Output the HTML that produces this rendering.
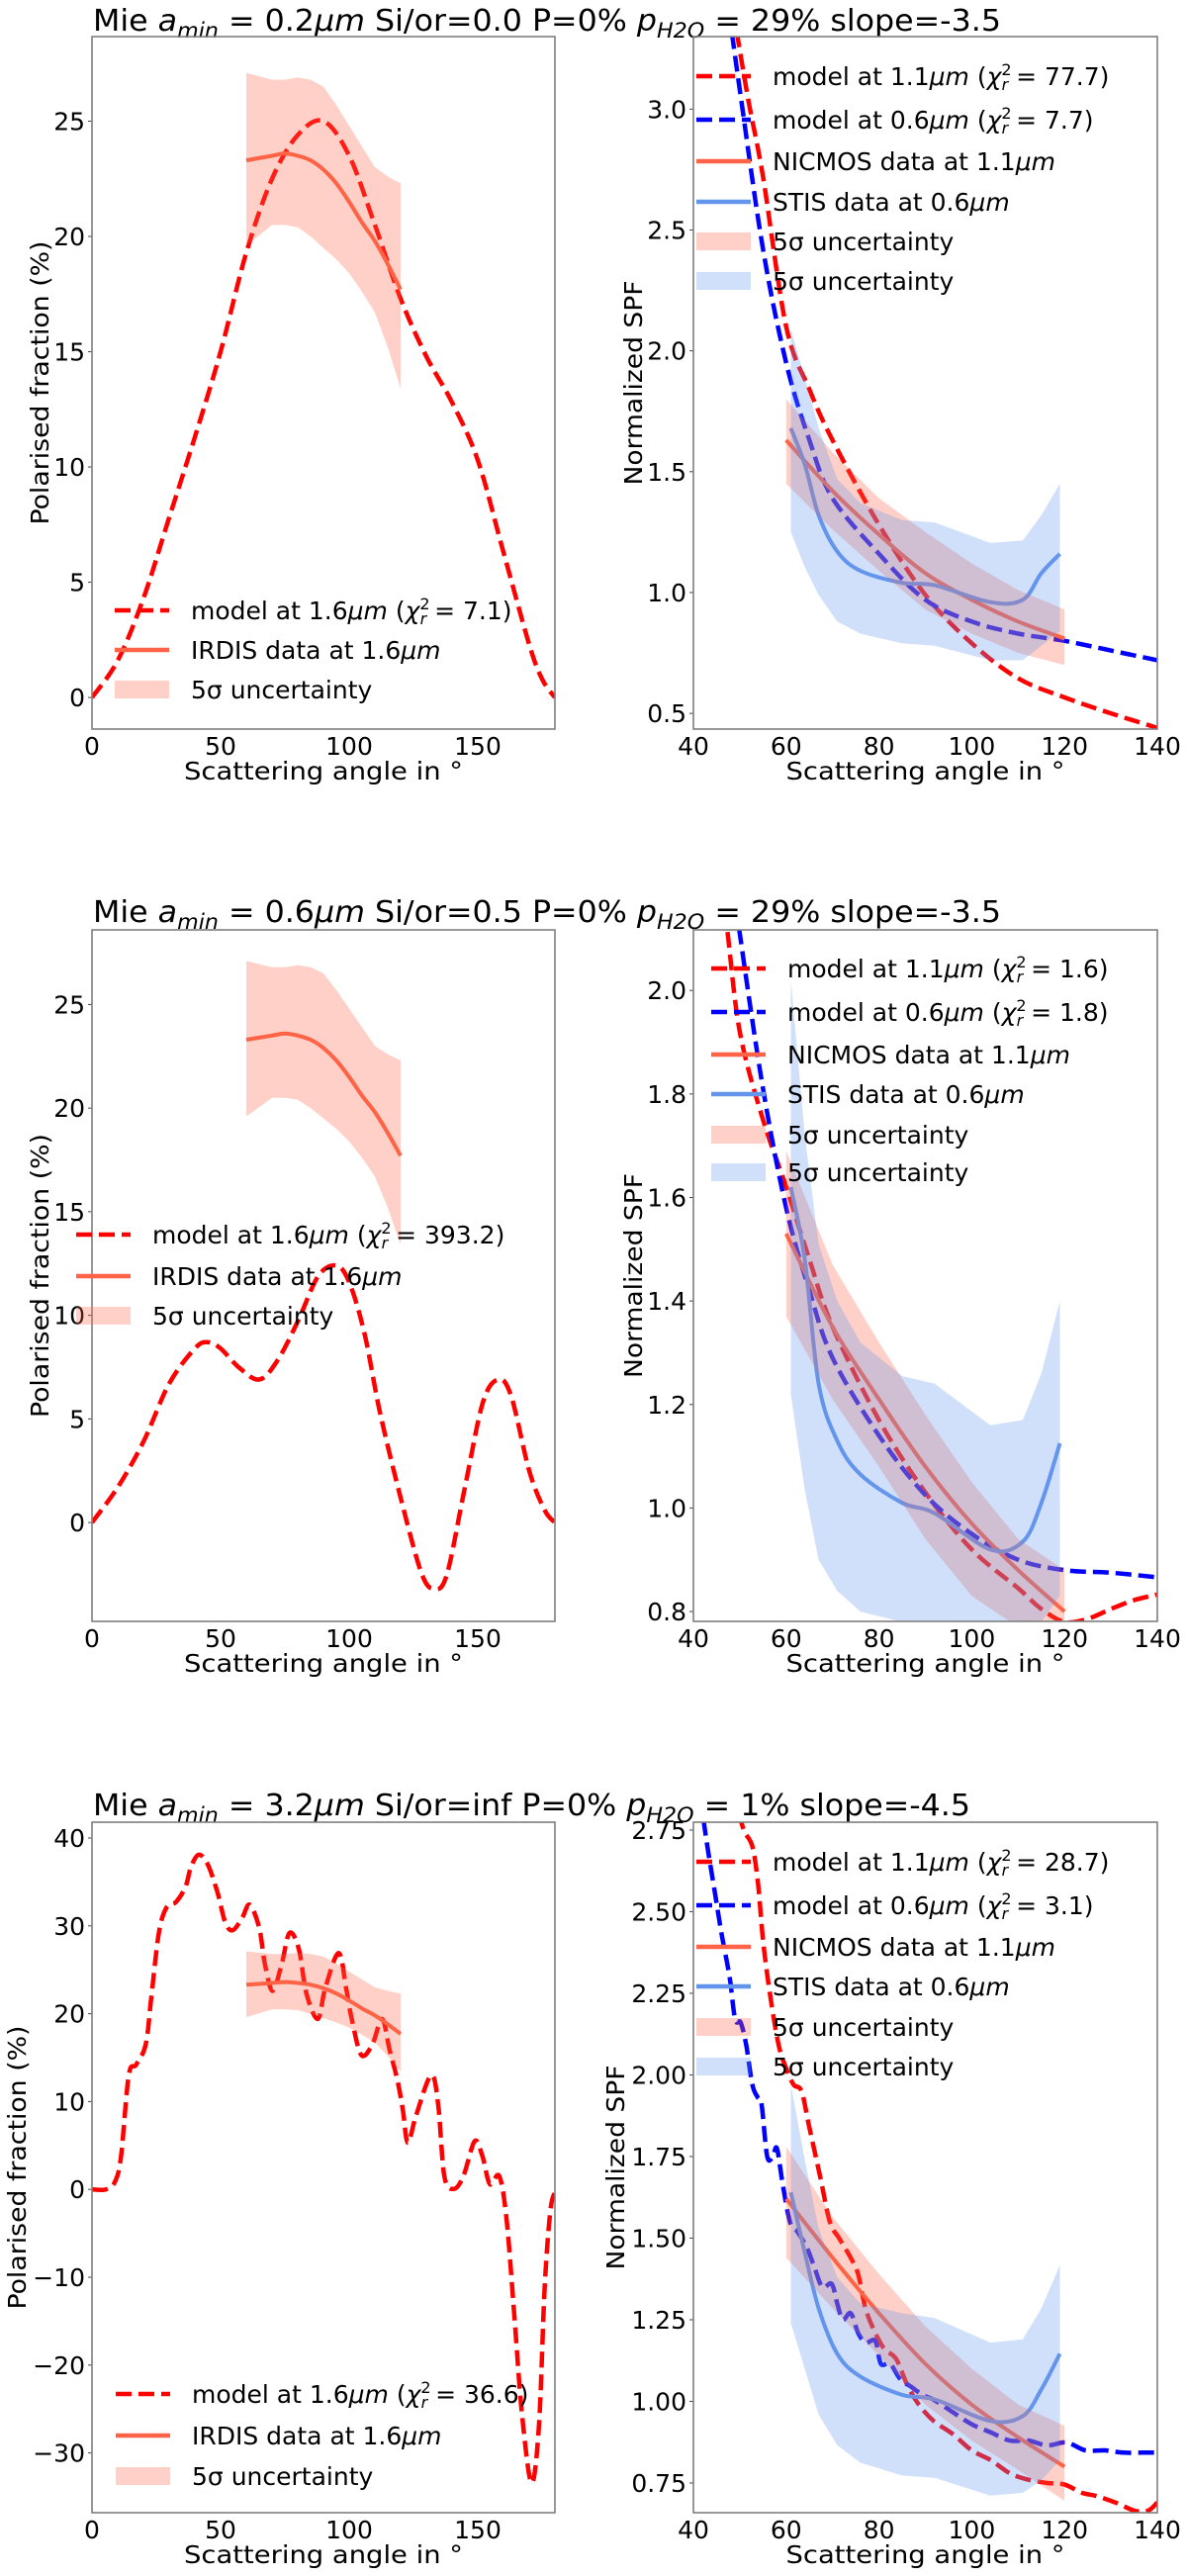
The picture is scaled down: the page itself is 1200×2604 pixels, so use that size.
<!DOCTYPE html>
<html><head><meta charset="utf-8"><style>
html,body{margin:0;padding:0;background:#fff;}
svg{display:block;font-family:"DejaVu Sans","Liberation Sans",sans-serif;}
</style></head><body>
<svg id="fig" width="1200" height="2604" viewBox="0 0 1200 2604" xmlns="http://www.w3.org/2000/svg">
<rect width="1200" height="2604" fill="#fff"/>
<text x="94" y="31" font-size="30" textLength="918" lengthAdjust="spacingAndGlyphs">Mie <tspan font-style="italic">a</tspan><tspan font-style="italic" font-size="21" dy="7">min</tspan><tspan dy="-7"> = 0.2</tspan><tspan font-style="italic">μm</tspan> Si/or=0.0 P=0% <tspan font-style="italic">p</tspan><tspan font-style="italic" font-size="21" dy="7">H2O</tspan><tspan dy="-7"> = 29% slope=-3.5</tspan></text>
<text x="94" y="932" font-size="30" textLength="918" lengthAdjust="spacingAndGlyphs">Mie <tspan font-style="italic">a</tspan><tspan font-style="italic" font-size="21" dy="7">min</tspan><tspan dy="-7"> = 0.6</tspan><tspan font-style="italic">μm</tspan> Si/or=0.5 P=0% <tspan font-style="italic">p</tspan><tspan font-style="italic" font-size="21" dy="7">H2O</tspan><tspan dy="-7"> = 29% slope=-3.5</tspan></text>
<text x="94" y="1835" font-size="30" textLength="887" lengthAdjust="spacingAndGlyphs">Mie <tspan font-style="italic">a</tspan><tspan font-style="italic" font-size="21" dy="7">min</tspan><tspan dy="-7"> = 3.2</tspan><tspan font-style="italic">μm</tspan> Si/or=inf P=0% <tspan font-style="italic">p</tspan><tspan font-style="italic" font-size="21" dy="7">H2O</tspan><tspan dy="-7"> = 1% slope=-4.5</tspan></text>
</svg>
<script>
// ===== Shared data =====
const irdisAng = [60, 70, 75, 80, 85, 90, 95, 100, 105, 110, 115, 120];
const irdisVal = [23.3, 23.5, 23.6, 23.5, 23.3, 22.9, 22.3, 21.5, 20.6, 19.8, 18.8, 17.7];
const irdisHi  = [27.1, 26.8, 26.8, 26.9, 26.8, 26.5, 25.7, 24.8, 23.9, 23.0, 22.6, 22.3];
const irdisLo  = [19.6, 20.5, 20.5, 20.4, 20.0, 19.5, 19.0, 18.4, 17.6, 16.7, 15.2, 13.4];
const nicAng = [60, 70, 80, 90, 100, 110, 120];
const stisAng = [61, 64, 67, 71, 76, 85, 92, 104, 111, 115, 119];

// ===== Panel 1 (row1 left) =====
const p1ModelAng = [0, 10, 20, 30, 40, 50, 60, 70, 80, 90, 100, 110, 120, 130, 140, 150, 160, 170, 175, 180];
const p1ModelVal = [0, 1.6, 4.3, 7.8, 11.3, 15.0, 19.3, 22.5, 24.4, 25.0, 23.5, 20.5, 17.3, 14.8, 12.8, 10.3, 6.3, 2.3, 0.8, 0];
// ===== Panel 2 (row1 right) =====
const p2RedAng = [47, 49.5, 52, 55, 60, 65, 70, 80, 90, 100, 110, 120, 130, 140];
const p2RedVal = [3.6, 3.3, 3.02, 2.72, 2.1, 1.84, 1.63, 1.28, 0.99, 0.79, 0.645, 0.566, 0.50, 0.44];
const p2BlueAng = [47, 50, 55, 60, 65, 70, 80, 90, 100, 110, 120, 130, 140];
const p2BlueVal = [3.5, 3.08, 2.42, 1.95, 1.63, 1.39, 1.16, 0.97, 0.88, 0.83, 0.80, 0.76, 0.72];
const p2NicVal = [1.63, 1.42, 1.24, 1.08, 0.97, 0.88, 0.81];
const p2NicHi = [1.80, 1.58, 1.39, 1.25, 1.12, 1.01, 0.93];
const p2NicLo = [1.45, 1.26, 1.09, 0.93, 0.83, 0.75, 0.70];
const p2StisVal = [1.68, 1.53, 1.32, 1.17, 1.09, 1.04, 1.03, 0.96, 0.97, 1.08, 1.16];
const p2StisHi = [2.09, 1.89, 1.68, 1.47, 1.37, 1.30, 1.29, 1.205, 1.215, 1.32, 1.45];
const p2StisLo = [1.25, 1.105, 0.99, 0.88, 0.83, 0.79, 0.78, 0.72, 0.72, 0.78, 0.84];
// ===== Panel 3 (row2 left) =====
const p3ModelAng = [0, 10, 20, 30, 40, 45, 50, 57, 65, 72, 80, 88, 95, 100, 106, 112, 120, 128, 133, 138, 145, 152, 158, 163, 170, 176, 180];
const p3ModelVal = [0, 1.7, 3.9, 6.7, 8.4, 8.7, 8.4, 7.5, 6.9, 7.8, 9.7, 11.9, 12.4, 11.6, 9.1, 5.3, 1.2, -2.4, -3.2, -2.5, 1.7, 5.8, 6.9, 6.1, 2.5, 0.6, 0];
// ===== Panel 4 (row2 right) =====
const p4RedAng = [46, 47.3, 50, 55, 60, 65, 70, 80, 90, 100, 110, 115, 120, 125, 130, 135, 140];
const p4RedVal = [2.2, 2.117, 1.92, 1.75, 1.62, 1.48, 1.35, 1.17, 1.03, 0.92, 0.845, 0.805, 0.78, 0.786, 0.805, 0.822, 0.833];
const p4BlueAng = [48, 50, 55, 60, 65, 70, 80, 90, 100, 110, 120, 130, 140];
const p4BlueVal = [2.25, 2.11, 1.81, 1.58, 1.42, 1.29, 1.14, 1.025, 0.95, 0.90, 0.88, 0.875, 0.866];
const p4NicVal = [1.53, 1.35, 1.21, 1.08, 0.97, 0.88, 0.80];
const p4NicHi = [1.69, 1.47, 1.32, 1.18, 1.05, 0.94, 0.88];
const p4NicLo = [1.37, 1.21, 1.08, 0.94, 0.83, 0.77, 0.745];
const p4StisVal = [1.62, 1.48, 1.24, 1.13, 1.065, 1.01, 0.99, 0.92, 0.935, 1.01, 1.125];
const p4StisHi = [2.02, 1.72, 1.51, 1.40, 1.32, 1.255, 1.24, 1.16, 1.17, 1.26, 1.40];
const p4StisLo = [1.22, 1.035, 0.90, 0.84, 0.80, 0.78, 0.77, 0.77, 0.77, 0.78, 0.83];
// ===== Panel 5 (row3 left) =====
const p5ModelAng = [0, 5.4, 9, 11.3, 14.3, 17.2, 20.9, 23, 26, 29, 32.6, 36.3, 38.5, 41.5, 45, 48.8, 51.8, 54.7, 58.4, 61.3, 65, 67.2, 70.2, 73.8, 76.8, 80.4, 83.4, 87.8, 90.7, 95.9, 98.8, 101, 104.7, 109, 112.8, 115.7, 118.7, 120.9, 122.8, 126, 131.9, 134.6, 137, 140.7, 144.4, 148.8, 151.8, 154.7, 158.4, 161.3, 164.3, 167.2, 170.9, 173.8, 176, 178.2, 180];
const p5ModelVal = [0, 0, 0.9, 3.8, 13, 14.2, 16.5, 21.7, 29.2, 32.1, 32.7, 34.4, 36.7, 38.1, 37, 33.8, 30.4, 29.5, 30.9, 32.4, 29.8, 25.7, 22.6, 25.7, 29.2, 27.4, 22.3, 19.4, 22.9, 26.9, 22.9, 19.4, 15.3, 16.5, 19.4, 15.9, 12.5, 9.0, 5.3, 8.4, 13, 9.6, 1.5, 0.06, 1.5, 5.5, 3.8, 0.6, 1.5, -3.7, -14.7, -25.6, -33.4, -26.8, -11.2, -2.5, -0.3];
// ===== Panel 6 (row3 right) =====
const p6RedAng = [49.8, 51, 52.7, 53.9, 55.1, 56.7, 58.4, 60, 61.6, 63.3, 64.9, 67.3, 69.4, 71.4, 73.9, 75.5, 77.1, 79.2, 81.2, 83.7, 86.1, 88.6, 91.8, 95.9, 100, 104.1, 108.2, 112.2, 116.3, 120, 123.7, 126.9, 131, 135.1, 138, 140];
const p6RedVal = [2.8, 2.745, 2.70, 2.59, 2.40, 2.23, 2.09, 2.02, 1.97, 1.95, 1.845, 1.69, 1.55, 1.50, 1.44, 1.39, 1.285, 1.21, 1.16, 1.13, 1.05, 0.99, 0.94, 0.90, 0.85, 0.82, 0.78, 0.76, 0.75, 0.745, 0.72, 0.71, 0.69, 0.665, 0.665, 0.69];
const p6BlueAng = [41.5, 42.9, 44.5, 46.1, 47.8, 49, 50.2, 51.4, 52.7, 53.9, 54.7, 55.9, 57.1, 58, 59.2, 60.8, 62.4, 64.5, 66.1, 67.8, 69.8, 71, 72.2, 73.9, 75.5, 77.1, 79.2, 80.4, 82.4, 84.5, 86.9, 89.4, 91.8, 95.9, 100, 104.1, 108.2, 112.2, 116.3, 120.4, 124.5, 128.6, 132.7, 136.7, 140];
const p6BlueVal = [2.85, 2.71, 2.57, 2.43, 2.30, 2.17, 2.16, 2.09, 1.97, 1.93, 1.91, 1.75, 1.75, 1.775, 1.67, 1.55, 1.52, 1.47, 1.41, 1.35, 1.36, 1.30, 1.25, 1.27, 1.21, 1.18, 1.185, 1.115, 1.115, 1.07, 1.045, 1.02, 1.005, 0.967, 0.93, 0.905, 0.88, 0.88, 0.865, 0.874, 0.85, 0.85, 0.843, 0.843, 0.843];
const p6NicVal = [1.62, 1.44, 1.27, 1.115, 0.99, 0.89, 0.80];
const p6NicHi = [1.78, 1.565, 1.39, 1.23, 1.10, 0.99, 0.925];
const p6NicLo = [1.44, 1.285, 1.14, 0.99, 0.88, 0.79, 0.695];
const p6StisVal = [1.64, 1.456, 1.285, 1.146, 1.076, 1.02, 1.006, 0.94, 0.955, 1.037, 1.146];
const p6StisHi = [1.97, 1.74, 1.53, 1.38, 1.30, 1.27, 1.255, 1.18, 1.19, 1.285, 1.417];
const p6StisLo = [1.24, 1.10, 0.96, 0.866, 0.812, 0.773, 0.766, 0.711, 0.72, 0.758, 0.82];

// Tick labels
const leftXTicks = [0, 50, 100, 150];
const rightXTicks = [40, 60, 80, 100, 120, 140];
const p1YTicks = [0, 5, 10, 15, 20, 25];
const p2YTicks = [0.5, 1.0, 1.5, 2.0, 2.5, 3.0];
const p3YTicks = [0, 5, 10, 15, 20, 25];
const p4YTicks = [0.8, 1.0, 1.2, 1.4, 1.6, 1.8, 2.0];
const p5YTicks = [-30, -20, -10, 0, 10, 20, 30, 40];
const p6YTicks = [0.75, 1.0, 1.25, 1.5, 1.75, 2.0, 2.25, 2.5, 2.75];

const NS = 'http://www.w3.org/2000/svg';
const svg = document.getElementById('fig');
const RED = '#ff0000', BLUE = '#0000ff', TOM = '#ff6347', CORN = '#6495ed';
let clipId = 0;

function el(tag, attrs, parent) {
  const e = document.createElementNS(NS, tag);
  for (const k in attrs) e.setAttribute(k, attrs[k]);
  (parent || svg).appendChild(e);
  return e;
}
function fmt(v, d) {
  const s = v.toFixed(d);
  return s.charAt(0) === '-' ? '\u2212' + s.slice(1) : s;
}
function smoothPath(pts) {
  if (pts.length < 3) return pts.map((p, i) => (i ? 'L' : 'M') + p[0].toFixed(1) + ' ' + p[1].toFixed(1)).join(' ');
  let d = 'M' + pts[0][0].toFixed(1) + ' ' + pts[0][1].toFixed(1);
  for (let i = 0; i < pts.length - 1; i++) {
    const p0 = pts[i - 1] || pts[i], p1 = pts[i], p2 = pts[i + 1], p3 = pts[i + 2] || p2;
    const c1x = p1[0] + (p2[0] - p0[0]) / 6, c1y = p1[1] + (p2[1] - p0[1]) / 6;
    const c2x = p2[0] - (p3[0] - p1[0]) / 6, c2y = p2[1] - (p3[1] - p1[1]) / 6;
    d += ' C' + c1x.toFixed(1) + ' ' + c1y.toFixed(1) + ' ' + c2x.toFixed(1) + ' ' + c2y.toFixed(1) + ' ' + p2[0].toFixed(1) + ' ' + p2[1].toFixed(1);
  }
  return d;
}

function axes(cfg) {
  const g = el('g', {});
  
  
  const sx = v => cfg.x0 + (v - cfg.xmin) / (cfg.xmax - cfg.xmin) * (cfg.x1 - cfg.x0);
  const sy = v => cfg.y1 - (v - cfg.ymin) / (cfg.ymax - cfg.ymin) * (cfg.y1 - cfg.y0);
  const id = 'clip' + (clipId++);
  const cp = el('clipPath', { id: id }, g);
  el('rect', { x: cfg.x0, y: cfg.y0, width: cfg.x1 - cfg.x0, height: cfg.y1 - cfg.y0 }, cp);
  const plot = el('g', { 'clip-path': 'url(#' + id + ')' }, g);
  cfg.xticks.forEach(t => {
    const lab = el('text', { x: sx(t), y: cfg.y1 + 26, 'font-size': 25, 'text-anchor': 'middle' }, g);
    
    
    lab.textContent = String(t);
  });
  cfg.yticks.forEach(t => {
    if (sy(t) < cfg.y0 - 12 || sy(t) > cfg.y1 + 2) return;
    const lab = el('text', { x: cfg.x0 - 7, y: sy(t) + 9, 'font-size': 25, 'text-anchor': 'end' }, g);
    
    
    lab.textContent = fmt(t, cfg.ydec);
    el('line', { x1: cfg.x0 - 4, x2: cfg.x0, y1: sy(t), y2: sy(t), stroke: '#444', 'stroke-width': 1 }, g);
  });
  const xl = el('text', { x: (cfg.x0 + cfg.x1) / 2, y: cfg.y1 + 51, 'font-size': 25, 'text-anchor': 'middle', textLength: 282, lengthAdjust: 'spacingAndGlyphs' }, g);
  
  
  xl.textContent = 'Scattering angle in  \u00b0';
  const yc = (cfg.y0 + cfg.y1) / 2;
  const yl = el('text', { x: 0, y: 0, 'font-size': 25, 'text-anchor': 'middle',
    'font-family': '"DejaVu Sans Condensed","Liberation Sans Narrow","Liberation Sans",sans-serif',
    transform: 'translate(' + (cfg.ylx + 9) + ',' + yc + ') rotate(-90)',
    textLength: cfg.ylLen, lengthAdjust: 'spacingAndGlyphs' }, g);
  
  
  yl.textContent = cfg.ylabel;
  return { g, plot, sx, sy, cfg };
}

function line(ax, xs, ys, color, dashed, name, w) {
  const pts = xs.map((x, i) => [ax.sx(x), ax.sy(ys[i])]);
  const p = el('path', { d: smoothPath(pts), fill: 'none', stroke: color, 'stroke-width': w || 4.5,
    'stroke-linejoin': 'round', 'stroke-dasharray': dashed ? '16 7' : 'none' }, ax.plot);
  
  
}
function band(ax, xs, hi, lo, color, name) {
  let d = xs.map((x, i) => (i ? 'L' : 'M') + ax.sx(x).toFixed(1) + ' ' + ax.sy(hi[i]).toFixed(1)).join(' ');
  for (let i = xs.length - 1; i >= 0; i--) d += ' L' + ax.sx(xs[i]).toFixed(1) + ' ' + ax.sy(lo[i]).toFixed(1);
  const p = el('path', { d: d + ' Z', fill: color, 'fill-opacity': 0.3, stroke: 'none' }, ax.plot);
  
  
}
function frame(ax) {
  const c = ax.cfg;
  const r = el('rect', { x: c.x0, y: c.y0, width: c.x1 - c.x0, height: c.y1 - c.y0, fill: 'none', stroke: '#7f7f7f', 'stroke-width': 1.6 }, ax.g);
  
  
}
function legendText(parent, x, y, label, chi) {
  const t = el('text', { x: x, y: y + 9, 'font-size': 25 }, parent);
  const parts = label.split('μm');
  t.appendChild(document.createTextNode(parts[0]));
  if (parts.length > 1) {
    const mu = el('tspan', { 'font-style': 'italic' }, t); mu.textContent = 'μm';
    if (chi === undefined) t.appendChild(document.createTextNode(parts[1]));
  }
  if (chi !== undefined) {
    const a = el('tspan', {}, t); a.textContent = ' (';
    const c = el('tspan', { 'font-style': 'italic' }, t); c.textContent = 'χ';
    const s2 = el('tspan', { 'font-size': 16, dy: -10 }, t); s2.textContent = '2';
    const sr = el('tspan', { 'font-size': 16, 'font-style': 'italic', dx: -10, dy: 15 }, t); sr.textContent = 'r';
    const rest = el('tspan', { dy: -5 }, t); rest.textContent = ' = ' + chi + ')';
  }
  return t;
}
function legend(ax, entries, hx, tx, ys, name) {
  const g = el('g', {}, ax.g);
  
  
  entries.forEach((e, i) => {
    const y = ys[i];
    const eg = el('g', {}, g);
    
    
    if (e.type === 'band') {
      el('rect', { x: hx, y: y - 9, width: tx - hx - 22, height: 18, fill: e.color, 'fill-opacity': 0.3 }, eg);
    } else {
      el('line', { x1: hx, x2: tx - 22, y1: y, y2: y, stroke: e.color, 'stroke-width': 4.5,
        'stroke-dasharray': e.type === 'dash' ? '16 7' : 'none' }, eg);
    }
    legendText(eg, tx, y, e.label, e.chi);
  });
}

const L = { x0: 93, x1: 561, xmin: 0, xmax: 180, xticks: leftXTicks, ydec: 0, ylabel: 'Polarised fraction (%)', ylLen: 287 };
const R = { x0: 701, x1: 1170, xmin: 40, xmax: 140, xticks: rightXTicks, ylabel: 'Normalized SPF', ylLen: 207 };
const rows = [[37, 737], [940, 1639], [1842, 2540]];

function leftPanel(name, row, ymin, ymax, yticks, ylx, mAng, mVal, chi, hx, tx, ys) {
  const ax = axes(Object.assign({}, L, { name: name, y0: rows[row][0], y1: rows[row][1], ymin: ymin, ymax: ymax, yticks: yticks, ylx: ylx }));
  line(ax, mAng, mVal, RED, true, 'model-1.6um-line');
  line(ax, irdisAng, irdisVal, TOM, false, 'irdis-data-line', 4);
  band(ax, irdisAng, irdisHi, irdisLo, TOM, 'irdis-uncertainty-band');
  frame(ax);
  legend(ax, [
    { type: 'dash', color: RED, label: 'model at 1.6μm', chi: chi },
    { type: 'line', color: TOM, label: 'IRDIS data at 1.6μm' },
    { type: 'band', color: TOM, label: '5σ uncertainty' }
  ], hx, tx, ys, 'legend');
}
function rightPanel(name, row, ymin, ymax, yticks, ydec, ylx, rA, rV, bA, bV, nV, nH, nLo, sV, sH, sLo, chiR, chiB, hx, tx, ys) {
  const ax = axes(Object.assign({}, R, { name: name, y0: rows[row][0], y1: rows[row][1], ymin: ymin, ymax: ymax, yticks: yticks, ydec: ydec, ylx: ylx }));
  line(ax, rA, rV, RED, true, 'model-1.1um-line');
  line(ax, bA, bV, BLUE, true, 'model-0.6um-line');
  line(ax, nicAng, nV, TOM, false, 'nicmos-data-line', 4);
  line(ax, stisAng, sV, CORN, false, 'stis-data-line', 4);
  band(ax, nicAng, nH, nLo, TOM, 'nicmos-uncertainty-band');
  band(ax, stisAng, sH, sLo, CORN, 'stis-uncertainty-band');
  frame(ax);
  legend(ax, [
    { type: 'dash', color: RED, label: 'model at 1.1μm', chi: chiR },
    { type: 'dash', color: BLUE, label: 'model at 0.6μm', chi: chiB },
    { type: 'line', color: TOM, label: 'NICMOS data at 1.1μm' },
    { type: 'line', color: CORN, label: 'STIS data at 0.6μm' },
    { type: 'band', color: TOM, label: '5σ uncertainty' },
    { type: 'band', color: CORN, label: '5σ uncertainty' }
  ], hx, tx, ys, 'legend');
}

leftPanel('panel-row1-polarised', 0, -1.37, 28.67, p1YTicks, 40, p1ModelAng, p1ModelVal, '7.1', 116, 193, [617, 657, 697]);
rightPanel('panel-row1-spf', 0, 0.435, 3.30, p2YTicks, 1, 640, p2RedAng, p2RedVal, p2BlueAng, p2BlueVal,
  p2NicVal, p2NicHi, p2NicLo, p2StisVal, p2StisHi, p2StisLo, '77.7', '7.7', 704, 781, [77, 121, 163, 204, 244, 284]);
leftPanel('panel-row2-polarised', 1, -4.77, 28.6, p3YTicks, 40, p3ModelAng, p3ModelVal, '393.2', 77, 154, [1248, 1290, 1330]);
rightPanel('panel-row2-spf', 1, 0.781, 2.117, p4YTicks, 1, 640, p4RedAng, p4RedVal, p4BlueAng, p4BlueVal,
  p4NicVal, p4NicHi, p4NicLo, p4StisVal, p4StisHi, p4StisLo, '1.6', '1.8', 719, 796, [979, 1023, 1066, 1106, 1147, 1185]);
leftPanel('panel-row3-polarised', 2, -36.8, 41.8, p5YTicks, 17, p5ModelAng, p5ModelVal, '36.6', 117, 194, [2420, 2462, 2503]);
rightPanel('panel-row3-spf', 2, 0.659, 2.774, p6YTicks, 2, 622, p6RedAng, p6RedVal, p6BlueAng, p6BlueVal,
  p6NicVal, p6NicHi, p6NicLo, p6StisVal, p6StisHi, p6StisLo, '28.7', '3.1', 704, 781, [1882, 1926, 1968, 2008, 2049, 2089]);
</script>
</body></html>
